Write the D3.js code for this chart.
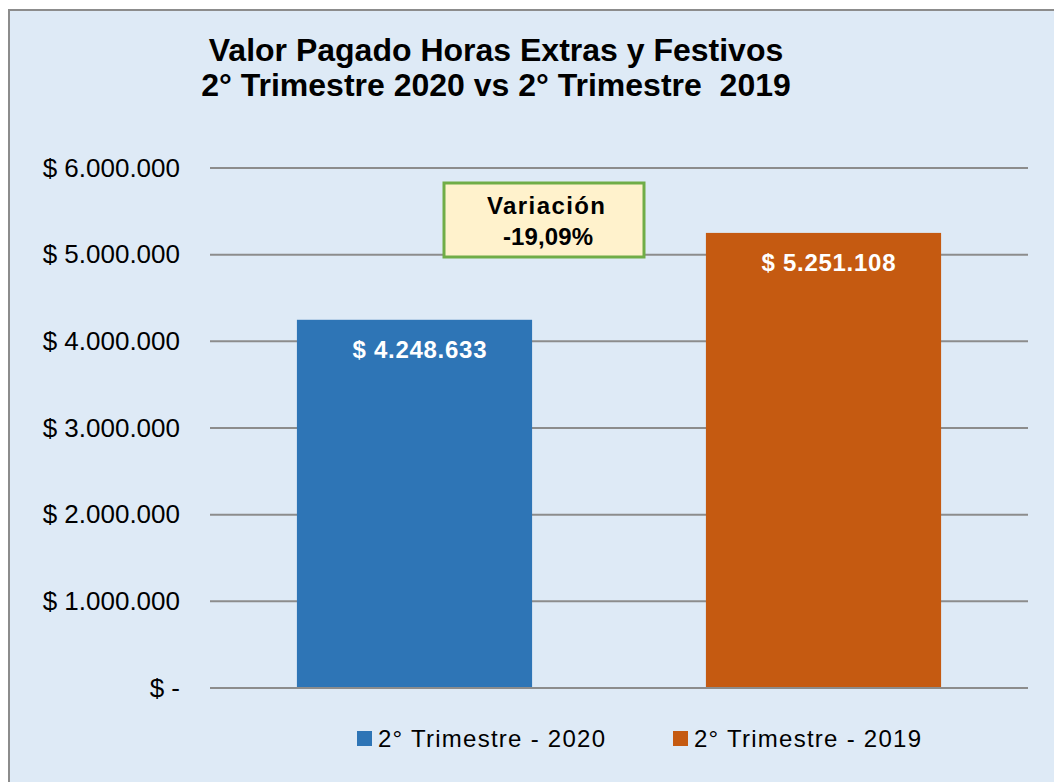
<!DOCTYPE html>
<html>
<head>
<meta charset="utf-8">
<script src="https://cdn.jsdelivr.net/npm/d3@7"></script>
<style>
  body { margin: 0; background: #fff; }
  svg text { font-family: "Liberation Sans", Arial, sans-serif; }
</style>
</head>
<body>
<svg id="chart" width="1054" height="782"></svg>
<script>
const categories = ["2° Trimestre - 2020", "2° Trimestre - 2019"];
const values = [4248633, 5251108];
const colors = ["#2E75B6", "#C55A11"];
const yTicks = [0, 1000000, 2000000, 3000000, 4000000, 5000000, 6000000];
const titleLines = ["Valor Pagado Horas Extras y Festivos", "2° Trimestre 2020 vs 2° Trimestre  2019"];
const variationLines = ["Variación", "-19,09%"];

const svg = d3.select("#chart");
const margin = { top: 168, right: 26, bottom: 94, left: 210 };
const width = 1054 - margin.left - margin.right;
const height = 782 - margin.top - margin.bottom;

// chart area background + border
svg.append("rect")
  .attr("x", 9).attr("y", 10)
  .attr("width", 1054).attr("height", 790)
  .attr("fill", "#DEEAF6")
  .attr("stroke", "#8C8C8C")
  .attr("stroke-width", 2);

// title
svg.append("g").selectAll("text")
  .data(titleLines)
  .join("text")
  .attr("x", 496)
  .attr("y", (d, i) => 61 + i * 35)
  .attr("text-anchor", "middle")
  .attr("font-size", 32)
  .attr("font-weight", "bold")
  .attr("fill", "#000")
  .style("white-space", "pre")
  .text(d => d);

const x = d3.scaleBand().domain(categories).range([0, width]).paddingInner(0.425).paddingOuter(0.2125);
const y = d3.scaleLinear().domain([0, 6000000]).range([height, 0]);

const fmt = v => v === 0 ? "$ -" : "$ " + d3.format(",")(v).replace(/,/g, ".");

const g = svg.append("g").attr("transform", "translate(" + margin.left + "," + margin.top + ")");

// gridlines
g.append("g")
  .selectAll("line")
  .data(yTicks)
  .join("line")
  .attr("x1", 0).attr("x2", width)
  .attr("y1", d => y(d)).attr("y2", d => y(d))
  .attr("stroke", "#8C8C8C")
  .attr("stroke-width", 2);

// y axis labels
const yAxis = g.append("g")
  .call(d3.axisLeft(y).tickValues(yTicks).tickFormat(fmt).tickSize(0).tickPadding(30));
yAxis.select(".domain").remove();
yAxis.selectAll("text")
  .attr("font-size", 26)
  .attr("fill", "#000")
  .style("font-family", "'Liberation Sans', Arial, sans-serif");

// bars
g.selectAll(".bar")
  .data(values)
  .join("rect")
  .attr("class", "bar")
  .attr("x", (d, i) => x(categories[i]))
  .attr("y", d => y(d))
  .attr("width", x.bandwidth())
  .attr("height", d => height - y(d))
  .attr("fill", (d, i) => colors[i]);

// redraw baseline on top of bars
g.append("line")
  .attr("x1", 0).attr("x2", width)
  .attr("y1", y(0)).attr("y2", y(0))
  .attr("stroke", "#8C8C8C")
  .attr("stroke-width", 2);

// value labels
g.selectAll(".val")
  .data(values)
  .join("text")
  .attr("class", "val")
  .attr("x", (d, i) => x(categories[i]) + x.bandwidth() / 2 + 5 - 67)
  .attr("y", d => y(d) + 38)
  .attr("font-size", 24)
  .attr("font-weight", "bold")
  .attr("fill", "#fff")
  .attr("textLength", 134)
  .attr("lengthAdjust", "spacing")
  .text(d => "$ " + d3.format(",")(d).replace(/,/g, "."));

// variation box
const box = svg.append("g").attr("transform", "translate(444,183)");
box.append("rect")
  .attr("width", 200).attr("height", 74)
  .attr("fill", "#FFF2CC")
  .attr("stroke", "#70AD47")
  .attr("stroke-width", 3);
const varX = [43, 59];
const varW = [118, 90];
box.selectAll("text")
  .data(variationLines)
  .join("text")
  .attr("x", (d, i) => varX[i])
  .attr("y", (d, i) => 31 + i * 31)
  .attr("font-size", 24)
  .attr("font-weight", "bold")
  .attr("fill", "#000")
  .attr("textLength", (d, i) => varW[i])
  .attr("lengthAdjust", "spacing")
  .text(d => d);

// legend
const legendX = [357, 673];
const legend = svg.append("g").selectAll("g")
  .data(categories)
  .join("g")
  .attr("transform", (d, i) => "translate(" + legendX[i] + ",731)");
legend.append("rect")
  .attr("width", 15).attr("height", 15)
  .attr("fill", (d, i) => colors[i]);
legend.append("text")
  .attr("x", 21).attr("y", 16)
  .attr("font-size", 24)
  .attr("fill", "#000")
  .attr("textLength", 227)
  .attr("lengthAdjust", "spacing")
  .text(d => d);
</script>
</body>
</html>
